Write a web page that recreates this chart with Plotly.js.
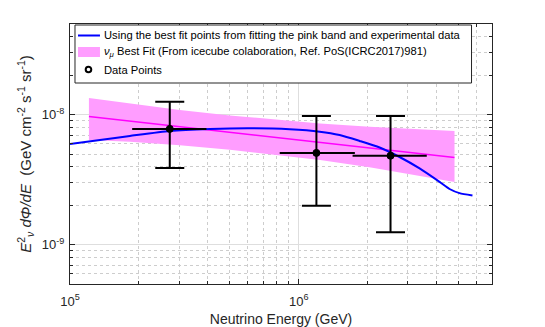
<!DOCTYPE html>
<html>
<head>
<meta charset="utf-8">
<script src="https://cdn.plot.ly/plotly-3.0.1.min.js"></script>
<style>html,body{margin:0;padding:0;background:#fff;}#chart{width:545px;height:327px;}</style>
</head>
<body>
<div id="chart"></div>
<script>
// Pink band (IceCube best fit uncertainty)
const bandX = [1.21e5, 1.83e5, 3.02e5, 5.0e5, 7.47e5, 1.24e6, 2.04e6, 3.38e6, 4.80e6];
const bandUpper = [1.35e-8, 1.22e-8, 1.09e-8, 9.9e-9, 9.25e-9, 8.6e-9, 8.1e-9, 7.7e-9, 7.5e-9];
const bandLower = [6.4e-9, 6.2e-9, 5.85e-9, 5.4e-9, 5.0e-9, 4.5e-9, 3.95e-9, 3.4e-9, 3.05e-9];
// Best-fit centre line
const bestFitX = [1.21e5, 4.80e6];
const bestFitY = [9.7e-9, 4.7e-9];
// Blue curve (best fit points)
const curveX = [1.0e5, 1.352e5, 1.828e5, 2.734e5, 4.087e5, 6.11e5, 9.13e5, 1.235e6, 1.51e6, 1.847e6, 2.258e6, 2.761e6, 3.377e6, 4.128e6, 4.565e6, 5.047e6, 5.75e6];
const curveY = [5.97e-9, 6.41e-9, 6.88e-9, 7.52e-9, 7.79e-9, 7.89e-9, 7.75e-9, 7.43e-9, 7.0e-9, 6.3e-9, 5.61e-9, 4.74e-9, 3.87e-9, 3.05e-9, 2.69e-9, 2.5e-9, 2.4e-9];
// Data points with error ranges
const pointX = [2.73e5, 1.195e6, 2.52e6];
const pointY = [7.8e-9, 5.1e-9, 4.85e-9];
const pointYHigh = [1.26e-8, 9.8e-9, 9.8e-9];
const pointYLow = [3.9e-9, 2.0e-9, 1.25e-9];
const pointXLow = [1.87e5, 8.26e5, 1.72e6];
const pointXHigh = [3.95e5, 1.76e6, 3.63e6];
// Tick labels
const xTickVals = [1e5, 1e6];
const xTickText = ['10<sup>5</sup>', '10<sup>6</sup>'];
const yTickVals = [1e-9, 1e-8];
const yTickText = ['10<sup>-9</sup>', '10<sup>-8</sup>'];
const xMinor = [2e5,3e5,4e5,5e5,6e5,7e5,8e5,9e5,2e6,3e6,4e6,5e6,6e6,7e6];
const yMinor = [5e-10,6e-10,7e-10,8e-10,9e-10,2e-9,3e-9,4e-9,5e-9,6e-9,7e-9,8e-9,9e-9,2e-8,3e-8,4e-8,5e-8];
// Legend texts
const legendNames = [
  'Using the best fit points from fitting the pink band and experimental data',
  '<i>ν</i><sub><i>μ</i></sub> Best Fit (From icecube colaboration, Ref. PoS(ICRC2017)981)',
  'Data Points'
];

const font = 'Liberation Sans, Arial, sans-serif';
const traces = [
  {
    x: bandX.concat(bandX.slice().reverse()),
    y: bandUpper.concat(bandLower.slice().reverse()),
    type: 'scatter', mode: 'lines', fill: 'toself',
    fillcolor: '#ff9dff', line: {width: 0, color: '#ff9dff'},
    name: legendNames[1], hoverinfo: 'skip'
  },
  {
    x: bestFitX, y: bestFitY, type: 'scatter', mode: 'lines',
    line: {color: '#ff00ff', width: 1.5}
  },
  {
    x: curveX, y: curveY, type: 'scatter', mode: 'lines',
    line: {color: '#0000ff', width: 2, shape: 'spline', smoothing: 0.6},
    name: legendNames[0]
  },
  {
    x: pointX, y: pointY, type: 'scatter', mode: 'markers',
    marker: {color: '#000', size: 7, line: {color: '#000', width: 1}},
    error_y: {type: 'data', symmetric: false,
      array: pointY.map((v, i) => pointYHigh[i] - v),
      arrayminus: pointY.map((v, i) => v - pointYLow[i]),
      color: '#000', thickness: 2, width: 14.5},
    error_x: {type: 'data', symmetric: false,
      array: pointX.map((v, i) => pointXHigh[i] - v),
      arrayminus: pointX.map((v, i) => v - pointXLow[i]),
      color: '#000', thickness: 2, width: 0},
    name: legendNames[2]
  }
];

const axisCommon = {
  type: 'log', showline: true, linecolor: '#262626', linewidth: 1, mirror: 'ticks',
  ticks: 'inside', ticklen: 5, tickcolor: '#262626', tickwidth: 1,
  showgrid: true, gridcolor: '#dedede', gridwidth: 1,
  zeroline: false, tickfont: {family: font, size: 13, color: '#262626'}, tickmode: 'array'
};

// Manual MATLAB-style legend (paper coordinates of the plot area)
const plotL = 70, plotR = 492.5, plotT = 24, plotB = 284;
const px = v => (v - plotL) / (plotR - plotL);
const py = v => 1 - (v - plotT) / (plotB - plotT);
const rowY = [35.5, 52, 69.5];
const shapes = [
  {type: 'rect', xref: 'paper', yref: 'paper', x0: px(75), x1: px(472), y0: py(83), y1: py(25),
    fillcolor: '#fff', line: {color: '#262626', width: 1}, layer: 'above'},
  {type: 'line', xref: 'paper', yref: 'paper', x0: px(78), x1: px(100), y0: py(rowY[0]), y1: py(rowY[0]),
    line: {color: '#0000ff', width: 2}, layer: 'above'},
  {type: 'rect', xref: 'paper', yref: 'paper', x0: px(78), x1: px(100), y0: py(57), y1: py(47),
    fillcolor: '#ff9dff', line: {width: 0}, layer: 'above'},
  {type: 'circle', xref: 'paper', yref: 'paper', x0: px(85.7), x1: px(91.3), y0: py(rowY[2] + 2.8), y1: py(rowY[2] - 2.8),
    fillcolor: '#fff', line: {color: '#000', width: 2}, layer: 'above'}
];
const annotations = legendNames.map((t, i) => ({
  text: t, xref: 'paper', yref: 'paper', x: px(102), y: py(rowY[i]),
  xanchor: 'left', yanchor: 'middle', showarrow: false,
  font: {family: font, size: 11.2, color: '#000'}
}));

const layout = {
  width: 545, height: 327,
  margin: {l: 70, r: 52.5, t: 24, b: 43},
  paper_bgcolor: '#fff', plot_bgcolor: '#fff',
  font: {family: font, color: '#262626'},
  showlegend: false,
  shapes: shapes,
  annotations: annotations,
  xaxis: Object.assign({}, axisCommon, {
    range: [5, Math.log10(7e6)],
    tickvals: xTickVals, ticktext: xTickText, ticklabelstandoff: 5,
    minor: {tickmode: 'array', tickvals: xMinor, ticks: 'inside', ticklen: 3, tickcolor: '#262626',
      showgrid: true, gridcolor: '#cdcdcd', griddash: 'dot', gridwidth: 1},
    title: {text: 'Neutrino Energy (GeV)', font: {family: font, size: 14, color: '#262626'}, standoff: 6}
  }),
  yaxis: Object.assign({}, axisCommon, {
    range: [Math.log10(5e-10), Math.log10(5e-8)],
    tickvals: yTickVals, ticktext: yTickText, ticklabelstandoff: 2,
    minor: {tickmode: 'array', tickvals: yMinor, ticks: 'inside', ticklen: 3, tickcolor: '#262626',
      showgrid: true, gridcolor: '#cdcdcd', griddash: 'dot', gridwidth: 1},
    title: {text: '<i>E</i><sup>2</sup><sub><i>ν</i></sub> <i>dΦ/dE</i>  (GeV cm<sup>-2</sup> s<sup>-1</sup> sr<sup>-1</sup>)',
      font: {family: font, size: 15, color: '#262626'}, standoff: 6}
  })
};

Plotly.newPlot('chart', traces, layout, {displayModeBar: false, staticPlot: true});
</script>
</body>
</html>
